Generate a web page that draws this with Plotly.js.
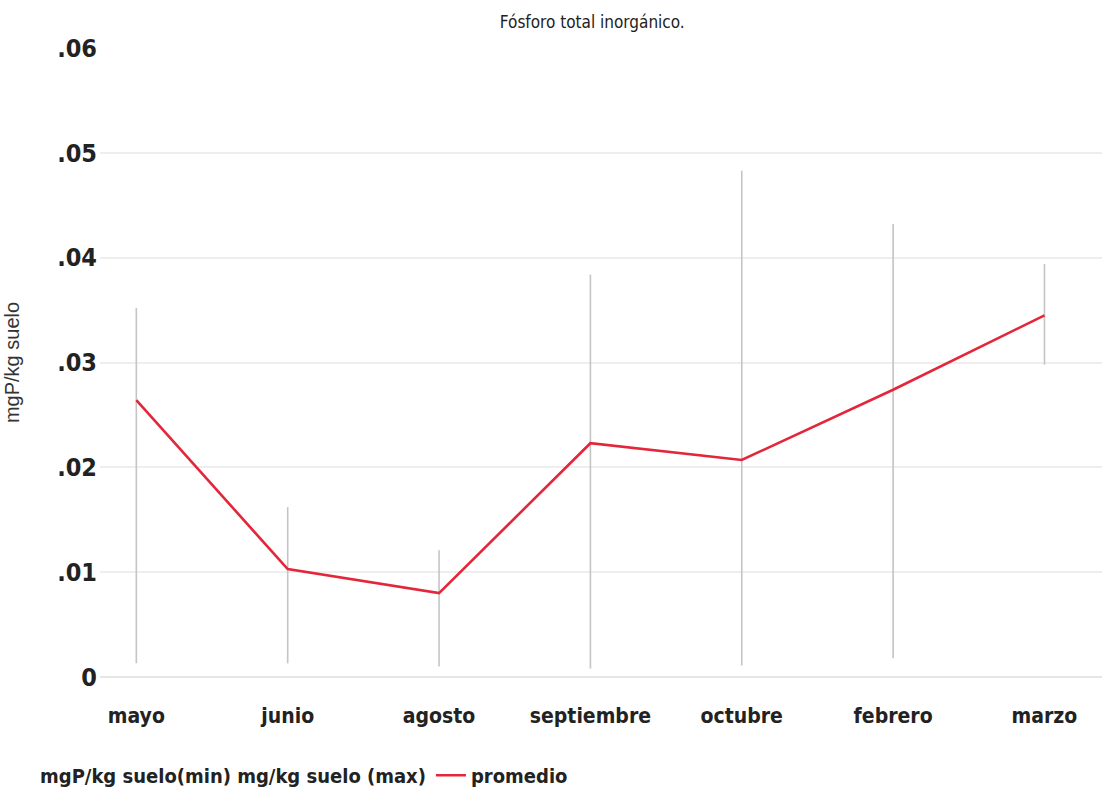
<!DOCTYPE html>
<html>
<head>
<meta charset="utf-8">
<script src="https://cdn.plot.ly/plotly-3.0.1.min.js"></script>
<style>
html,body{margin:0;padding:0;background:#fff;}
#chart{width:1107px;height:796px;}
#chart .xtick text, #chart .ytick text, #chart .legendtext, #chart .gtitle { font-stretch: condensed; }
</style>
</head>
<body>
<div id="chart"></div>
<script>
const months = ["mayo", "junio", "agosto", "septiembre", "octubre", "febrero", "marzo"];
const minVals = [0.0013, 0.0013, 0.0010, 0.0008, 0.0011, 0.0018, 0.0298];
const maxVals = [0.0352, 0.0162, 0.0121, 0.0384, 0.0483, 0.0432, 0.0394];
const meanVals = [0.0264, 0.0103, 0.0080, 0.0223, 0.0207, 0.0274, 0.0345];
const yTickVals = [0, 0.01, 0.02, 0.03, 0.04, 0.05, 0.06];
const yTickText = ["0", ".01", ".02", ".03", ".04", ".05", ".06"];

const narrow = '"Liberation Sans Narrow", "DejaVu Sans Condensed", "DejaVu Sans", sans-serif';

// vertical min-max range lines built from the data arrays
const rx = [], ry = [];
months.forEach((m, i) => { rx.push(m, m, null); ry.push(minVals[i], maxVals[i], null); });

const traces = [
  { x: rx, y: ry, mode: 'lines', line: { color: '#c4c4c4', width: 1.6 }, showlegend: false, hoverinfo: 'skip' },
  { x: months, y: minVals, mode: 'markers', marker: { color: 'rgba(0,0,0,0)', opacity: 0, size: 1, line: { width: 0 } },
    name: 'mgP/kg suelo(min) mg/kg suelo (max)', showlegend: true },
  { x: months, y: maxVals, mode: 'markers', marker: { color: 'rgba(0,0,0,0)', opacity: 0, size: 1, line: { width: 0 } },
    showlegend: false, name: 'mg/kg suelo (max)' },
  { x: months, y: meanVals, mode: 'lines', line: { color: '#e3263a', width: 2.6 }, name: 'promedio' }
];

const layout = {
  width: 1107, height: 796,
  margin: { l: 100, r: 5, t: 48, b: 119 },
  paper_bgcolor: '#ffffff', plot_bgcolor: '#ffffff',
  title: { text: 'Fósforo total inorgánico.', x: 0.535, xanchor: 'center', y: 0.972, yanchor: 'middle',
           font: { family: narrow, size: 17, color: '#222' } },
  xaxis: {
    type: 'category', range: [-0.24, 6.38], showgrid: false, zeroline: false, showline: false, automargin: false,
    ticks: '', tickfont: { family: narrow, size: 21, color: '#222', weight: 'bold' }, ticklabelstandoff: 24
  },
  yaxis: {
    range: [0, 0.06], tickvals: yTickVals, ticktext: yTickText, automargin: false,
    showgrid: true, gridcolor: '#eeeeee', gridwidth: 2, zeroline: true, zerolinecolor: '#e6e6e6', zerolinewidth: 2,
    showline: false, ticks: '', ticklabelstandoff: 2, tickfont: { family: narrow, size: 25, color: '#222', weight: 'bold' },
    title: { text: 'mgP/kg suelo', font: { family: 'Liberation Sans, Arial, sans-serif', size: 20, color: '#333' }, standoff: 32 }
  },
  showlegend: true,
  legend: {
    orientation: 'h', xref: 'container', yref: 'container', x: 0, xanchor: 'left', y: 0.026, yanchor: 'middle',
    font: { family: narrow, size: 20, color: '#222', weight: 'bold' }, traceorder: 'normal',
    itemwidth: 30, tracegroupgap: 0, bgcolor: 'rgba(0,0,0,0)'
  }
};

Plotly.newPlot('chart', traces, layout, { displayModeBar: false, staticPlot: true });
</script>
</body>
</html>
